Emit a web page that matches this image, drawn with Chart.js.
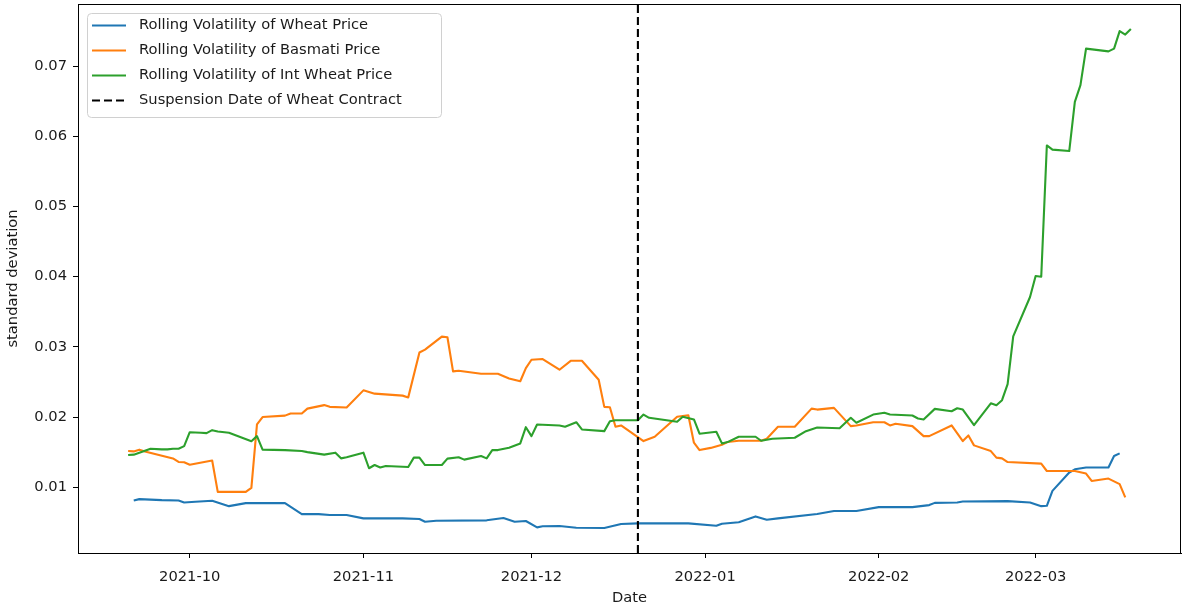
<!DOCTYPE html>
<html>
<head>
<meta charset="utf-8">
<script src="https://cdn.jsdelivr.net/npm/chart.js@4.4.1/dist/chart.umd.min.js"></script>
<style>
  html, body { margin: 0; padding: 0; background: #ffffff; }
  canvas { display: block; }
</style>
</head>
<body>
<canvas id="chart" width="1183" height="611"></canvas>
<script>
// ---------------- DATA ----------------
const wheatDates = ['2021-09-21','2021-09-22','2021-09-26','2021-09-29','2021-09-30','2021-10-02','2021-10-05','2021-10-08','2021-10-11','2021-10-18','2021-10-21','2021-10-24','2021-10-26','2021-10-29','2021-11-01','2021-11-08','2021-11-11','2021-11-12','2021-11-14','2021-11-23','2021-11-26','2021-11-28','2021-11-30','2021-12-02','2021-12-03','2021-12-06','2021-12-09','2021-12-14','2021-12-17','2021-12-20','2021-12-29','2022-01-03','2022-01-04','2022-01-07','2022-01-10','2022-01-12','2022-01-14','2022-01-21','2022-01-24','2022-01-28','2022-02-01','2022-02-07','2022-02-10','2022-02-11','2022-02-15','2022-02-16','2022-02-24','2022-02-28','2022-03-02','2022-03-03','2022-03-04','2022-03-07','2022-03-08','2022-03-10','2022-03-14','2022-03-15','2022-03-16'];
const wheatVol = [0.0081,0.0083,0.00816,0.00811,0.00783,0.00792,0.00806,0.0073,0.00773,0.00773,0.00617,0.00617,0.00603,0.00603,0.00556,0.00556,0.00546,0.00508,0.00522,0.00528,0.0056,0.00508,0.00518,0.00428,0.00443,0.00447,0.00423,0.00418,0.00475,0.00485,0.00485,0.00451,0.0048,0.005,0.00584,0.00536,0.00556,0.00617,0.0066,0.0066,0.00716,0.00716,0.00745,0.00777,0.00783,0.00797,0.00801,0.00783,0.0073,0.00735,0.00948,0.01209,0.01255,0.0128,0.0128,0.01444,0.01482];

const basmatiDates = ['2021-09-20','2021-09-21','2021-09-22','2021-09-23','2021-09-28','2021-09-29','2021-09-30','2021-10-01','2021-10-05','2021-10-06','2021-10-11','2021-10-12','2021-10-13','2021-10-14','2021-10-18','2021-10-19','2021-10-21','2021-10-22','2021-10-25','2021-10-26','2021-10-29','2021-11-01','2021-11-03','2021-11-08','2021-11-09','2021-11-11','2021-11-12','2021-11-15','2021-11-16','2021-11-17','2021-11-18','2021-11-22','2021-11-25','2021-11-27','2021-11-29','2021-11-30','2021-12-01','2021-12-03','2021-12-06','2021-12-08','2021-12-10','2021-12-13','2021-12-14','2021-12-15','2021-12-16','2021-12-17','2021-12-21','2021-12-23','2021-12-27','2021-12-29','2021-12-30','2021-12-31','2022-01-02','2022-01-04','2022-01-05','2022-01-07','2022-01-11','2022-01-12','2022-01-14','2022-01-17','2022-01-20','2022-01-21','2022-01-24','2022-01-27','2022-01-28','2022-01-31','2022-02-02','2022-02-03','2022-02-04','2022-02-07','2022-02-09','2022-02-10','2022-02-14','2022-02-16','2022-02-17','2022-02-18','2022-02-21','2022-02-22','2022-02-23','2022-02-24','2022-03-02','2022-03-03','2022-03-08','2022-03-10','2022-03-11','2022-03-14','2022-03-16','2022-03-17'];
const basmatiVol = [0.01515,0.0151,0.01535,0.0151,0.0141,0.0136,0.01355,0.0132,0.0138,0.00933,0.00933,0.0099,0.01894,0.0200,0.0202,0.0205,0.0205,0.0212,0.0217,0.02145,0.02135,0.0238,0.02333,0.02305,0.0228,0.0292,0.0296,0.03146,0.03137,0.0265,0.0266,0.02617,0.02617,0.0255,0.0251,0.02698,0.02816,0.02826,0.02674,0.02801,0.02801,0.02532,0.02145,0.02139,0.01861,0.0188,0.01657,0.01719,0.02003,0.02026,0.01634,0.01529,0.0156,0.01606,0.01643,0.01662,0.01662,0.01691,0.01861,0.01861,0.0212,0.02106,0.0213,0.0187,0.0188,0.01926,0.01926,0.0188,0.01903,0.0187,0.01728,0.01728,0.0188,0.01657,0.01738,0.01596,0.01515,0.01421,0.01411,0.01359,0.01336,0.01231,0.01231,0.01194,0.01089,0.01123,0.01043,0.00854];

const intWheatDates = ['2021-09-20','2021-09-21','2021-09-23','2021-09-24','2021-09-26','2021-09-27','2021-09-28','2021-09-29','2021-09-30','2021-10-01','2021-10-03','2021-10-04','2021-10-05','2021-10-06','2021-10-08','2021-10-12','2021-10-13','2021-10-14','2021-10-18','2021-10-21','2021-10-22','2021-10-25','2021-10-27','2021-10-28','2021-10-29','2021-11-01','2021-11-02','2021-11-03','2021-11-04','2021-11-05','2021-11-09','2021-11-10','2021-11-11','2021-11-12','2021-11-15','2021-11-16','2021-11-18','2021-11-19','2021-11-22','2021-11-23','2021-11-24','2021-11-25','2021-11-27','2021-11-29','2021-11-30','2021-12-01','2021-12-02','2021-12-06','2021-12-07','2021-12-09','2021-12-10','2021-12-14','2021-12-15','2021-12-16','2021-12-20','2021-12-21','2021-12-22','2021-12-27','2021-12-28','2021-12-30','2021-12-31','2022-01-03','2022-01-04','2022-01-05','2022-01-07','2022-01-10','2022-01-11','2022-01-13','2022-01-17','2022-01-19','2022-01-21','2022-01-25','2022-01-27','2022-01-28','2022-01-31','2022-02-02','2022-02-03','2022-02-07','2022-02-08','2022-02-09','2022-02-11','2022-02-14','2022-02-15','2022-02-16','2022-02-18','2022-02-21','2022-02-22','2022-02-23','2022-02-24','2022-02-25','2022-02-28','2022-03-01','2022-03-02','2022-03-03','2022-03-04','2022-03-07','2022-03-08','2022-03-09','2022-03-10','2022-03-14','2022-03-15','2022-03-16','2022-03-17','2022-03-18'];
const intWheatVol = [0.01458,0.01464,0.0152,0.01549,0.01539,0.01539,0.01549,0.01549,0.01586,0.01784,0.01776,0.0177,0.01813,0.01794,0.01776,0.01655,0.01728,0.01535,0.01529,0.01515,0.0150,0.01464,0.01492,0.01411,0.01426,0.01492,0.0127,0.01316,0.0128,0.01303,0.01288,0.01421,0.01421,0.01316,0.01316,0.01407,0.01426,0.01393,0.01444,0.01411,0.01529,0.01529,0.01563,0.01624,0.01855,0.01728,0.01894,0.0188,0.01861,0.01926,0.01823,0.01799,0.0194,0.01955,0.01955,0.02035,0.01989,0.01932,0.02003,0.01965,0.01762,0.0179,0.01624,0.01643,0.01719,0.01719,0.01662,0.01691,0.01705,0.01799,0.01851,0.01841,0.01989,0.01918,0.02035,0.0206,0.02035,0.02021,0.01979,0.01965,0.02116,0.02082,0.02125,0.02106,0.01884,0.02195,0.02168,0.0224,0.0247,0.0315,0.0371,0.0401,0.0400,0.0587,0.0581,0.0579,0.0649,0.0673,0.0725,0.0721,0.0725,0.0750,0.0745,0.0753];

const suspensionDate = '2021-12-20';
const seriesLabels = ['Rolling Volatility of Wheat Price','Rolling Volatility of Basmati Price','Rolling Volatility of Int Wheat Price','Suspension Date of Wheat Contract'];
const xTickLabels = ['2021-10','2021-11','2021-12','2022-01','2022-02','2022-03'];
const yTickValues = [0.01,0.02,0.03,0.04,0.05,0.06,0.07];
const xTitle = 'Date';
const yTitle = 'standard deviation';

// ---------------- HELPERS ----------------
const DAY = 86400000;
function toDay(s) {
  const p = s.split('-').map(Number);
  return Date.UTC(p[0], p[1] - 1, p[2] || 1) / DAY;
}
function fmtMonth(d) {
  const dt = new Date(Math.round(d) * DAY);
  return dt.getUTCFullYear() + '-' + String(dt.getUTCMonth() + 1).padStart(2, '0');
}
function pts(dates, vals) { return dates.map((d, i) => ({ x: toDay(d), y: vals[i] })); }

const allX = [].concat(wheatDates, basmatiDates, intWheatDates).map(toDay);
const allY = [].concat(wheatVol, basmatiVol, intWheatVol);
const xLo0 = Math.min(...allX), xHi0 = Math.max(...allX);
const yLo0 = Math.min(...allY), yHi0 = Math.max(...allY);
const xPad = (xHi0 - xLo0) * 0.05, yPad = (yHi0 - yLo0) * 0.05;
const xMin = xLo0 - xPad, xMax = xHi0 + xPad;
const yMin = yLo0 - yPad, yMax = yHi0 + yPad;

const FONT = '"DejaVu Sans", "Liberation Sans", sans-serif';
const FS = 14.7;
const TXT = '#1a1a1a';
const COLORS = ['#1f77b4', '#ff7f0e', '#2ca02c', '#000000'];

const frameAndLegend = {
  id: 'frameAndLegend',
  afterDraw(chart) {
    const ctx = chart.ctx;
    const a = chart.chartArea;
    ctx.save();
    ctx.strokeStyle = '#000';
    ctx.lineWidth = 1;
    ctx.strokeRect(a.left + 0.5, a.top + 0.5, a.right - a.left - 1, a.bottom - a.top);
    // legend
    const x0 = a.left + 9, y0 = a.top + 9, w = 354, h = 104;
    ctx.beginPath();
    if (ctx.roundRect) ctx.roundRect(x0 + 0.5, y0 + 0.5, w, h, 4); else ctx.rect(x0 + 0.5, y0 + 0.5, w, h);
    ctx.fillStyle = 'rgba(255,255,255,0.8)';
    ctx.fill();
    ctx.strokeStyle = '#d0d0d0';
    ctx.lineWidth = 1;
    ctx.stroke();
    ctx.font = FS + 'px ' + FONT;
    ctx.textBaseline = 'middle';
    ctx.textAlign = 'left';
    chart.data.datasets.forEach((ds, i) => {
      const yy = y0 + 12.5 + 25 * i;
      ctx.beginPath();
      ctx.strokeStyle = ds.borderColor;
      ctx.lineWidth = 2;
      ctx.setLineDash(ds.borderDash || []);
      ctx.moveTo(x0 + 5, yy);
      ctx.lineTo(x0 + 39, yy);
      ctx.stroke();
      ctx.setLineDash([]);
      ctx.fillStyle = TXT;
      ctx.fillText(ds.label, x0 + 52, yy);
    });
    ctx.restore();
  }
};

new Chart(document.getElementById('chart'), {
  type: 'line',
  data: {
    datasets: [
      { label: seriesLabels[0], data: pts(wheatDates, wheatVol), borderColor: COLORS[0], order: 3 },
      { label: seriesLabels[1], data: pts(basmatiDates, basmatiVol), borderColor: COLORS[1], order: 2 },
      { label: seriesLabels[2], data: pts(intWheatDates, intWheatVol), borderColor: COLORS[2], order: 1 },
      { label: seriesLabels[3], data: [{ x: toDay(suspensionDate), y: yMin }, { x: toDay(suspensionDate), y: yMax }],
        borderColor: COLORS[3], borderDash: [8, 4], order: 0 }
    ]
  },
  options: {
    responsive: false,
    animation: false,
    devicePixelRatio: 1,
    layout: { padding: { top: 4, right: 2, left: 0, bottom: 0 } },
    elements: {
      point: { radius: 0, hoverRadius: 0 },
      line: { borderWidth: 2.1, tension: 0, fill: false, borderCapStyle: 'butt', borderJoinStyle: 'round' }
    },
    plugins: { legend: { display: false }, tooltip: { enabled: false } },
    scales: {
      x: {
        type: 'linear',
        min: xMin, max: xMax,
        afterBuildTicks(s) { s.ticks = xTickLabels.map(l => ({ value: toDay(l) })); },
        afterFit(s) { s.height = 58; s.paddingLeft = 0; s.paddingRight = 0; },
        ticks: {
          callback: v => fmtMonth(v),
          font: { family: FONT, size: FS }, color: TXT,
          maxRotation: 0, autoSkip: false, padding: 10
        },
        grid: { drawOnChartArea: false, drawTicks: true, tickLength: 5, color: '#000' },
        border: { display: true, color: '#000', width: 1 },
        title: { display: true, text: xTitle, font: { family: FONT, size: FS }, color: TXT, padding: { top: 4, bottom: 4 } }
      },
      y: {
        type: 'linear',
        min: yMin, max: yMax,
        afterBuildTicks(s) { s.ticks = yTickValues.map(v => ({ value: v })); },
        afterFit(s) { s.width = 78; s.paddingTop = 0; s.paddingBottom = 0; },
        ticks: {
          callback: v => v.toFixed(2),
          font: { family: FONT, size: FS }, color: TXT, padding: 6
        },
        grid: { drawOnChartArea: false, drawTicks: true, tickLength: 5, color: '#000' },
        border: { display: true, color: '#000', width: 1 },
        title: { display: true, text: yTitle, font: { family: FONT, size: FS }, color: TXT, padding: { top: 4, bottom: 4 } }
      }
    }
  },
  plugins: [frameAndLegend]
});
</script>
</body>
</html>
